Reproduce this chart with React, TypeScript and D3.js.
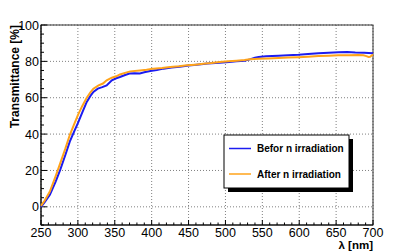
import React from "react";
import * as d3 from "d3";

const blueX = [250,255,262,270,276,283,289,295,300,306,312,317,321,327,333,339,346,352,357,364,370,377,384,390,398,407,416,427,438,450,461,476,492,505,515,526,533,540,545,555,572,585,599,612,626,640,653,665,676,688,700];
const blueY = [0,2.5,6.6,14,20.3,28.5,35.8,41.5,46,52,57.7,61,63.2,65,65.8,66.8,69.6,70.7,71.4,72.5,73.3,73.5,73.3,74,74.7,75.3,76,76.6,77.1,77.7,78.2,78.8,79.3,79.6,80,80.3,81.1,82,82.4,82.8,83.1,83.3,83.6,84,84.5,84.8,85,85.2,84.9,84.8,84.5];
const orangeX = [250,255,262,270,276,283,289,295,300,306,312,317,321,328,334,339,346,352,357,365,371,384,393,402,414,425,437,448,459,470,481,492,504,515,526,533,545,558,572,585,599,612,626,640,653,667,680,687,691,694,696,700];
const orangeY = [0.5,3.5,8.4,17,23.9,32,39.5,45.5,50.4,55.5,60,63,65,66.8,67.8,69.6,71,71.8,72.8,73.8,74.5,75,75.4,76,76.4,76.9,77.3,77.8,78.2,78.7,79.1,79.6,80,80.4,80.8,81.2,81.4,81.6,81.8,82.1,82.3,82.6,82.9,83.1,83.3,83.4,83.5,83.3,82.9,82.4,82.5,83.8];
const xTicks = [250,300,350,400,450,500,550,600,650,700];
const yTicks = [0,20,40,60,80,100];
const seriesNames = ["Befor n irradiation", "After n irradiation"];
const seriesColors = ["#1c1cf0", "#ffa31a"];

export default function App() {
  const W = 415, H = 251;
  const x = d3.scaleLinear().domain([250, 700]).range([41, 373]);
  const y = d3.scaleLinear().domain([-10, 100]).range([225, 25]);
  const line = d3.line<[number, number]>().x(d => x(d[0])).y(d => y(d[1]));
  const blue = blueX.map((v, i) => [v, blueY[i]] as [number, number]);
  const orange = orangeX.map((v, i) => [v, orangeY[i]] as [number, number]);
  const xMinor = d3.range(250, 701, 10);
  const yMinor = d3.range(-10, 101, 5);
  const font = "'Liberation Sans', Arial, Helvetica, sans-serif";
  const [x0, x1] = x.range();
  const [y0, y1] = y.range();
  return (
    <svg width={W} height={H} style={{ position: "absolute", left: 0, top: 0, background: "#fff" }} fontFamily={font}>
      <rect x={0} y={0} width={W} height={H} fill="#fff" />
      {xTicks.map(t => (
        <line key={"gx" + t} x1={x(t)} x2={x(t)} y1={y1} y2={y0} stroke="#808080" strokeDasharray="1,2" />
      ))}
      {yTicks.map(t => (
        <line key={"gy" + t} x1={x0} x2={x1} y1={y(t)} y2={y(t)} stroke="#808080" strokeDasharray="1,2" />
      ))}
      <rect x={x0} y={y1} width={x1 - x0} height={y0 - y1} fill="none" stroke="#333" strokeWidth={1} />
      {xMinor.map(t => (
        <line key={"tx" + t} x1={x(t)} x2={x(t)} y1={y0} y2={y0 - (t % 50 === 0 ? 5 : 2.5)} stroke="#000" />
      ))}
      {yMinor.map(t => (
        <line key={"ty" + t} x1={x0} x2={x0 + (t % 20 === 0 ? 6 : 3)} y1={y(t)} y2={y(t)} stroke="#000" />
      ))}
      <line x1={x0} x2={x0} y1={y0} y2={y1} stroke="#000" />
      <line x1={x0} x2={x1} y1={y0} y2={y0} stroke="#000" />
      <path d={line(blue) || ""} fill="none" stroke={seriesColors[0]} strokeWidth={2} />
      <path d={line(orange) || ""} fill="none" stroke={seriesColors[1]} strokeWidth={2} />
      {xTicks.map(t => (
        <text key={"lx" + t} x={x(t)} y={237} textAnchor="middle" fontSize={12.5} fill="#000">{t}</text>
      ))}
      {yTicks.map(t => (
        <text key={"ly" + t} x={39} y={y(t) + 4.5} textAnchor="end" fontSize={12.5} fill="#000">{t}</text>
      ))}
      <text transform={`translate(19,${y1}) rotate(-90)`} textAnchor="end" fontSize={12} fontWeight="bold" fill="#000">Transmittance [%]</text>
      <text x={x1} y={249} textAnchor="end" fontSize={11.5} fontWeight="bold" fill="#000">λ [nm]</text>
      <rect x={228} y={139} width={125} height={53} fill="#000" />
      <rect x={224} y={135} width={125} height={53} fill="#fff" stroke="#000" strokeWidth={1} />
      {seriesNames.map((n, i) => (
        <g key={n}>
          <line x1={229} x2={251} y1={148.5 + i * 25.5} y2={148.5 + i * 25.5} stroke={seriesColors[i]} strokeWidth={1.5} />
          <text x={257} y={152 + i * 25.5} fontSize={10} fontWeight="bold" fill="#000">{n}</text>
        </g>
      ))}
    </svg>
  );
}
